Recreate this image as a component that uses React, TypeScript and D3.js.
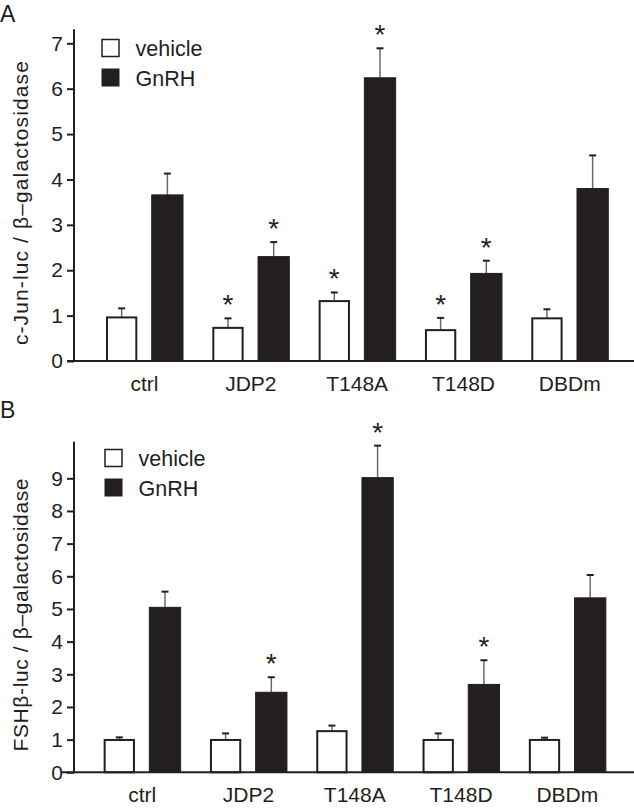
import * as React from 'react'
import * as d3 from 'd3'

const width = 634
const height = 809
const font = 'Liberation Sans, Arial, Helvetica, sans-serif'
const ink = '#231f20'

const categories = ['ctrl', 'JDP2', 'T148A', 'T148D', 'DBDm']
const series = ['vehicle', 'GnRH']

// panel A: c-Jun-luc
const aVehicle = [0.96, 0.73, 1.32, 0.68, 0.94]
const aVehicleSe = [0.2, 0.21, 0.19, 0.27, 0.2]
const aGnrh = [3.66, 2.3, 6.24, 1.93, 3.8]
const aGnrhSe = [0.47, 0.32, 0.65, 0.28, 0.73]
const aVehicleStar = [false, true, true, true, false]
const aGnrhStar = [false, true, true, true, false]
const aTicks = [0, 1, 2, 3, 4, 5, 6, 7]

// panel B: FSHb-luc
const bVehicle = [0.99, 0.99, 1.26, 0.99, 0.99]
const bVehicleSe = [0.08, 0.2, 0.17, 0.2, 0.07]
const bGnrh = [5.05, 2.45, 9.02, 2.69, 5.34]
const bGnrhSe = [0.48, 0.46, 0.98, 0.74, 0.7]
const bVehicleStar = [false, false, false, false, false]
const bGnrhStar = [false, true, true, true, false]
const bTicks = [0, 1, 2, 3, 4, 5, 6, 7, 8, 9]

const Panel = ({ letter, letterY, yLabel, labelLen, vehicle, vehicleSe, gnrh, gnrhSe, vStar, gStar, ticks, top, bottom, axisTop, yMax, xStart, xEnd, xLine, legendY, legendX, catY }: any) => {
  const yScale = d3.scaleLinear().domain([0, yMax]).range([bottom, top])
  const xScale = d3
    .scaleBand()
    .domain(categories)
    .range([xStart, xEnd])
    .paddingInner(0.2756)
    .paddingOuter(0.1378)
  const inner = d3
    .scaleBand()
    .domain(series)
    .range([0, xScale.bandwidth()])
    .paddingInner(0.315)

  const yRef = React.useRef(null)
  React.useEffect(() => {
    const g = d3.select(yRef.current)
    g.call(d3.axisLeft(yScale).tickValues(ticks).tickSize(7).tickPadding(4).tickFormat(d3.format('d')))
    g.attr('font-size', 21).attr('font-family', font)
    g.select('.domain').remove()
    g.selectAll('.tick line').attr('stroke', ink).attr('stroke-width', 2)
    g.selectAll('.tick text').attr('fill', ink)
  }, [])

  const rows = categories.map((c, i) => [
    { c, s: 'vehicle', v: vehicle[i], se: vehicleSe[i], star: vStar[i] },
    { c, s: 'GnRH', v: gnrh[i], se: gnrhSe[i], star: gStar[i] },
  ]).flat()

  const midY = (bottom + yScale(axisTop)) / 2

  return (
    <g>
      <text x={0} y={letterY} fontSize={23} fontFamily={font} fill={ink}>{letter}</text>
      <text
        transform={`translate(28, ${midY + 8}) rotate(-90)`}
        textAnchor="middle"
        fontSize={21}
        fontFamily={font}
        fill={ink}
        textLength={labelLen}
        lengthAdjust="spacing"
      >
        {yLabel}
      </text>
      {rows.map((d, i) => {
        const x = xScale(d.c) + inner(d.s)
        const w = inner.bandwidth()
        const cx = x + w / 2
        const yTop = yScale(d.v)
        const yErr = yScale(d.v + d.se)
        const white = d.s === 'vehicle'
        return (
          <g key={i}>
            <line x1={cx} x2={cx} y1={yTop} y2={yErr} stroke="#6b6b6b" strokeWidth={1.5} />
            <line x1={cx - 3.5} x2={cx + 3.5} y1={yErr} y2={yErr} stroke={ink} strokeWidth={2} />
            <rect
              x={x + (white ? 1 : 0)}
              y={yTop}
              width={w - (white ? 2 : 0)}
              height={bottom - yTop}
              fill={white ? '#fff' : ink}
              stroke={ink}
              strokeWidth={white ? 2 : 1}
            />
            {d.star && (
              <text x={cx} y={yErr - 4} textAnchor="middle" fontSize={28} fontFamily={font} fill={ink}>*</text>
            )}
          </g>
        )
      })}
      <line x1={xLine} x2={width} y1={bottom} y2={bottom} stroke={ink} strokeWidth={2} />
      <line x1={74} x2={74} y1={bottom + 1} y2={yScale(axisTop)} stroke={ink} strokeWidth={2} />
      <g ref={yRef} transform="translate(74, 0)" />
      {categories.map(c => (
        <text key={c} x={xScale(c) + xScale.bandwidth() / 2} y={catY} textAnchor="middle" fontSize={21} fontFamily={font} fill={ink}>{c}</text>
      ))}
      {series.map((s, i) => (
        <g key={s}>
          <rect
            x={legendX}
            y={legendY + i * 29.5}
            width={17}
            height={17}
            fill={i === 0 ? '#fff' : ink}
            stroke={ink}
            strokeWidth={i === 0 ? 1.5 : 1}
          />
          <text x={legendX + 33.5} y={legendY + 16.5 + i * 29.5} fontSize={21.5} fontFamily={font} fill={ink}>{s}</text>
        </g>
      ))}
    </g>
  )
}

const App = () => (
  <svg width={width} height={height} style={{ position: 'absolute', left: 0, top: 0, background: '#fff' }}>
    <Panel
      letter="A"
      letterY={22}
      yLabel="c-Jun-luc / β–galactosidase"
      labelLen={284}
      vehicle={aVehicle}
      vehicleSe={aVehicleSe}
      gnrh={aGnrh}
      gnrhSe={aGnrhSe}
      vStar={aVehicleStar}
      gStar={aGnrhStar}
      ticks={aTicks}
      top={43.3}
      bottom={361}
      yMax={7}
      axisTop={7.31}
      xStart={91.35}
      xEnd={622.95}
      xLine={67}
      legendX={102}
      legendY={39.5}
      catY={391}
    />
    <Panel
      letter="B"
      letterY={418}
      yLabel="FSHβ-luc / β–galactosidase"
      labelLen={273}
      vehicle={bVehicle}
      vehicleSe={bVehicleSe}
      gnrh={bGnrh}
      gnrhSe={bGnrhSe}
      vStar={bVehicleStar}
      gStar={bGnrhStar}
      ticks={bTicks}
      top={478.3}
      bottom={772.3}
      yMax={9}
      axisTop={10.12}
      xStart={89}
      xEnd={620.5}
      xLine={62}
      legendX={105}
      legendY={449.5}
      catY={802}
    />
  </svg>
)

export default App
